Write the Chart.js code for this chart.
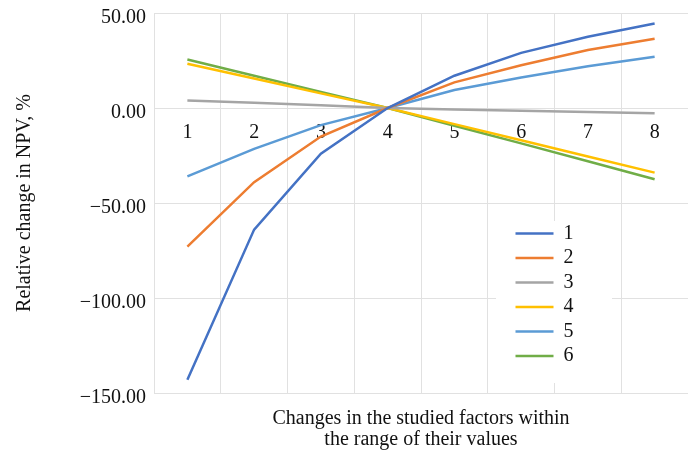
<!DOCTYPE html>
<html>
<head>
<meta charset="utf-8">
<script src="https://cdn.jsdelivr.net/npm/chart.js@4.4.1/dist/chart.umd.min.js"></script>
<style>
  body { margin: 0; background: #fff; }
  #wrap { width: 688px; height: 450px; }
</style>
</head>
<body>
<div id="wrap"><canvas id="npvChart"></canvas></div>
<script>
// Chart data
const categories = ['1', '2', '3', '4', '5', '6', '7', '8'];
const factor1 = [-143, -64, -24, 0, 17, 29, 37.5, 44.5];
const factor2 = [-73, -39, -15, 0, 13.5, 22.5, 30.5, 36.5];
const factor3 = [4, 2.8, 1.5, 0, -0.8, -1.5, -2.1, -2.7];
const factor4 = [23.3, 15.5, 7.7, 0, -8.5, -17, -25.5, -34];
const factor5 = [-36, -21.5, -9, 0, 9.5, 16, 22, 27];
const factor6 = [25.5, 17, 8.5, 0, -9.3, -18.6, -28, -37.5];
const seriesNames = ['1', '2', '3', '4', '5', '6'];
const yTicks = [-150, -100, -50, 0, 50];

const colors = ['#4472C4', '#ED7D31', '#A5A5A5', '#FFC000', '#5B9BD5', '#70AD47'];
const gridColor = '#e1e1e1';
const textColor = '#111';

Chart.defaults.font.family = "'Liberation Serif', 'Times New Roman', serif";
Chart.defaults.font.size = 20;
Chart.defaults.color = textColor;

// format like -50.00 with a real minus sign
function fmt(v) {
  const s = Math.abs(v).toFixed(2);
  return v < 0 ? '\u2212' + s : s;
}

// move the legend into the plot and give it a white box
const legendSpot = {
  id: 'legendSpot',
  afterLayout(chart) {
    const lg = chart.legend;
    lg.left = 511;
    lg.right = 612;
    lg.top = 219;
    lg.bottom = 383;
    lg.width = lg.right - lg.left;
    lg.height = lg.bottom - lg.top;
  },
  beforeDatasetsDraw(chart) {
    const ctx = chart.ctx;
    ctx.save();
    ctx.fillStyle = '#fff';
    ctx.fillRect(496, 221, 116, 162);
    ctx.restore();
    chart.legend.draw();
  }
};

const allSeries = [factor1, factor2, factor3, factor4, factor5, factor6];

const ctx = document.getElementById('npvChart').getContext('2d');
const npvChart = new Chart(ctx, {
  type: 'line',
  data: {
    labels: categories,
    datasets: allSeries.map((d, i) => ({
      label: seriesNames[i],
      data: d,
      borderColor: colors[i],
      backgroundColor: colors[i],
      borderWidth: 2.5,
      pointRadius: 0,
      pointHoverRadius: 0,
      tension: 0,
      fill: false
    }))
  },
  options: {
    responsive: true,
    maintainAspectRatio: false,
    animation: false,
    layout: { padding: { left: 9, top: 13, right: 0, bottom: 0 } },
    plugins: {
      tooltip: { enabled: false },
      legend: {
        position: 'chartArea',
        align: 'start',
        labels: {
          usePointStyle: true,
          pointStyle: 'line',
          pointStyleWidth: 38,
          padding: 4.5,
          color: textColor,
          font: { size: 20 }
        }
      }
    },
    scales: {
      x: {
        type: 'category',
        position: { y: 0 },
        offset: true,
        grid: { offset: true, color: gridColor, drawTicks: false },
        border: { color: gridColor },
        ticks: { padding: 13, maxRotation: 0, autoSkip: false, color: textColor }
      },
      x2: {
        type: 'category',
        position: 'bottom',
        offset: true,
        grid: { display: false },
        border: { display: false },
        ticks: { display: false },
        title: {
          display: true,
          text: ['Changes in the studied factors within', 'the range of their values'],
          color: textColor,
          font: { size: 20, lineHeight: 1.05 },
          padding: { top: 0, bottom: 0 }
        },
        afterFit(s) { s.height = 57; }
      },
      y: {
        min: -150,
        max: 50,
        afterBuildTicks(s) { s.ticks = yTicks.map(v => ({ value: v })); },
        ticks: { padding: 0, labelOffset: 5, color: textColor, callback: v => fmt(v) },
        grid: { color: gridColor, drawTicks: true, tickLength: 8, tickColor: 'rgba(0,0,0,0)' },
        border: { display: false },
        title: {
          display: true,
          text: 'Relative change in NPV, %',
          color: textColor,
          font: { size: 20 },
          padding: { top: 4, bottom: 0 }
        },
        afterFit(s) { s.width = 145; }
      }
    }
  },
  plugins: [legendSpot]
});
</script>
</body>
</html>
